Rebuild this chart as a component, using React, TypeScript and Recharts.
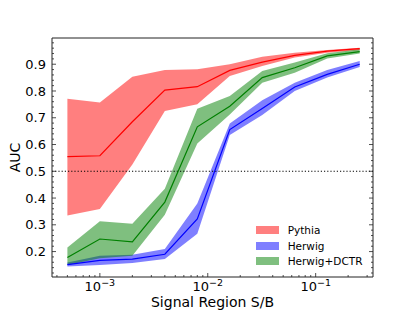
import { Area, ComposedChart, Legend, Line, ReferenceLine, XAxis, YAxis } from "recharts"

// signal region S/B values (log x axis)
const sb = [0.0005, 0.001, 0.002, 0.004, 0.008, 0.016, 0.032, 0.064, 0.128, 0.256]

const pythiaMid = [0.555, 0.558, 0.685, 0.803, 0.816, 0.877, 0.908, 0.933, 0.949, 0.958]
const pythiaHi = [0.771, 0.757, 0.853, 0.878, 0.881, 0.9, 0.928, 0.943, 0.953, 0.962]
const pythiaLo = [0.335, 0.359, 0.525, 0.725, 0.75, 0.856, 0.893, 0.925, 0.943, 0.953]

const herwigMid = [0.151, 0.167, 0.172, 0.19, 0.322, 0.656, 0.735, 0.815, 0.862, 0.9]
const herwigHi = [0.159, 0.184, 0.188, 0.21, 0.38, 0.679, 0.765, 0.831, 0.878, 0.912]
const herwigLo = [0.144, 0.15, 0.157, 0.172, 0.267, 0.636, 0.71, 0.8, 0.85, 0.89]

const dctrMid = [0.178, 0.247, 0.236, 0.385, 0.666, 0.743, 0.85, 0.887, 0.931, 0.947]
const dctrHi = [0.215, 0.313, 0.304, 0.435, 0.734, 0.781, 0.875, 0.906, 0.941, 0.956]
const dctrLo = [0.15, 0.175, 0.184, 0.338, 0.604, 0.712, 0.831, 0.868, 0.921, 0.94]

const legendItems = [
    { name: "Pythia", color: "#ff0000" },
    { name: "Herwig", color: "#0000ff" },
    { name: "Herwig+DCTR", color: "#008000" },
]

const data = sb.map((x, i) => ({
    x,
    pythia: pythiaMid[i],
    pythiaBand: [pythiaLo[i], pythiaHi[i]],
    herwig: herwigMid[i],
    herwigBand: [herwigLo[i], herwigHi[i]],
    dctr: dctrMid[i],
    dctrBand: [dctrLo[i], dctrHi[i]],
}))

// log ticks: decades plus 2..9 minors
const xTicks: number[] = []
for (const d of [1e-4, 1e-3, 1e-2, 1e-1]) {
    for (let m = 1; m < 10; m++) {
        const v = +(m * d).toPrecision(3)
        if (v >= 0.00036 && v <= 0.34) xTicks.push(v)
    }
}
const yTicks = Array.from({ length: 44 }, (_, i) => +(0.12 + i * 0.02).toFixed(2))

const isDecade = (v: number) => Math.abs(Math.log10(v) - Math.round(Math.log10(v))) < 1e-6
const isMajorY = (v: number) => Math.round(v * 100) % 10 === 0

const tickColor = "#222"

const BottomTick = (props: any) => {
    const { x, y, payload } = props
    const v = payload.value
    const major = isDecade(v)
    return (
        <g>
            <line x1={x} x2={x} y1={y} y2={y - (major ? 4 : 2)} stroke={tickColor} strokeWidth={0.8} />
            {major && (
                <text x={x} y={y + 14} textAnchor="middle" fontSize={13} fill="#000">
                    10<tspan dy={-5.5} fontSize={9.5}>{"\u2212" + Math.round(-Math.log10(v))}</tspan>
                </text>
            )}
        </g>
    )
}

const TopTick = (props: any) => {
    const { x, y, payload } = props
    const major = isDecade(payload.value)
    return <line x1={x} x2={x} y1={y} y2={y + (major ? 4 : 2)} stroke={tickColor} strokeWidth={0.8} />
}

const LeftTick = (props: any) => {
    const { x, y, payload } = props
    const v = payload.value
    const major = isMajorY(v)
    return (
        <g>
            <line x1={x} x2={x + (major ? 4 : 2)} y1={y} y2={y} stroke={tickColor} strokeWidth={0.8} />
            {major && (
                <text x={x - 6} y={y} dy="0.36em" textAnchor="end" fontSize={13} fill="#000">
                    {v.toFixed(1)}
                </text>
            )}
        </g>
    )
}

const RightTick = (props: any) => {
    const { x, y, payload } = props
    const major = isMajorY(payload.value)
    return <line x1={x} x2={x - (major ? 4 : 2)} y1={y} y2={y} stroke={tickColor} strokeWidth={0.8} />
}

const renderLegend = () => (
    <div style={{ fontSize: 10.5, fontFamily: "DejaVu Sans", color: "#000" }}>
        {legendItems.map((it) => (
            <div key={it.name} style={{ display: "flex", alignItems: "center", height: 15.8 }}>
                <span style={{ width: 22.7, height: 8, background: it.color, opacity: 0.5, display: "inline-block" }} />
                <span style={{ marginLeft: 9 }}>{it.name}</span>
            </div>
        ))}
    </div>
)

export default function App() {
    return (
        <div style={{ fontFamily: "DejaVu Sans" }}>
            <ComposedChart width={400} height={304} data={data} margin={{ top: 0, right: 0, bottom: 0, left: 0 }}>
                <XAxis
                    xAxisId="b"
                    dataKey="x"
                    type="number"
                    scale="log"
                    domain={[0.00036, 0.34]}
                    allowDataOverflow
                    ticks={xTicks}
                    interval={0}
                    height={35}
                    tickSize={0}
                    tickMargin={0}
                    tickLine={false}
                    tick={<BottomTick />}
                    axisLine={{ stroke: tickColor, strokeWidth: 1 }}
                    label={{ value: "Signal Region S/B", position: "insideBottom", offset: 5, fill: "#000", fontSize: 14 }}
                />
                <XAxis
                    xAxisId="t"
                    orientation="top"
                    type="number"
                    scale="log"
                    domain={[0.00036, 0.34]}
                    allowDataOverflow
                    ticks={xTicks}
                    interval={0}
                    height={30}
                    tickSize={0}
                    tickMargin={0}
                    tickLine={false}
                    tick={<TopTick />}
                    axisLine={{ stroke: tickColor, strokeWidth: 1 }}
                />
                <YAxis
                    yAxisId="l"
                    type="number"
                    domain={[0.105, 0.998]}
                    allowDataOverflow
                    ticks={yTicks}
                    interval={0}
                    width={44}
                    tickSize={0}
                    tickMargin={0}
                    tickLine={false}
                    tick={<LeftTick />}
                    axisLine={{ stroke: tickColor, strokeWidth: 1 }}
                    label={{ value: "AUC", angle: -90, position: "insideLeft", offset: 7, fill: "#000", fontSize: 14, style: { textAnchor: "middle" } }}
                />
                <YAxis
                    yAxisId="r"
                    orientation="right"
                    type="number"
                    domain={[0.105, 0.998]}
                    allowDataOverflow
                    ticks={yTicks}
                    interval={0}
                    width={35}
                    tickSize={0}
                    tickMargin={0}
                    tickLine={false}
                    tick={<RightTick />}
                    axisLine={{ stroke: tickColor, strokeWidth: 1 }}
                />
                <ReferenceLine xAxisId="b" yAxisId="l" y={0.5} stroke="#000" strokeWidth={1.1} strokeDasharray="1.2 2" />

                <Area xAxisId="b" yAxisId="l" dataKey="pythiaBand" type="linear" fill="#ff0000" fillOpacity={0.5} stroke="none" isAnimationActive={false} dot={false} activeDot={false} />
                <Line xAxisId="b" yAxisId="l" dataKey="pythia" type="linear" stroke="#ff0000" strokeWidth={1.2} dot={false} activeDot={false} isAnimationActive={false} />

                <Area xAxisId="b" yAxisId="l" dataKey="herwigBand" type="linear" fill="#0000ff" fillOpacity={0.5} stroke="none" isAnimationActive={false} dot={false} activeDot={false} />
                <Line xAxisId="b" yAxisId="l" dataKey="herwig" type="linear" stroke="#0000ff" strokeWidth={1.2} dot={false} activeDot={false} isAnimationActive={false} />

                <Area xAxisId="b" yAxisId="l" dataKey="dctrBand" type="linear" fill="#008000" fillOpacity={0.5} stroke="none" isAnimationActive={false} dot={false} activeDot={false} />
                <Line xAxisId="b" yAxisId="l" dataKey="dctr" type="linear" stroke="#008000" strokeWidth={1.2} dot={false} activeDot={false} isAnimationActive={false} />

                <Legend
                    layout="vertical"
                    align="center"
                    verticalAlign="middle"
                    content={renderLegend}
                    wrapperStyle={{ left: 248, top: 214, width: 130 }}
                />
            </ComposedChart>
        </div>
    )
}
